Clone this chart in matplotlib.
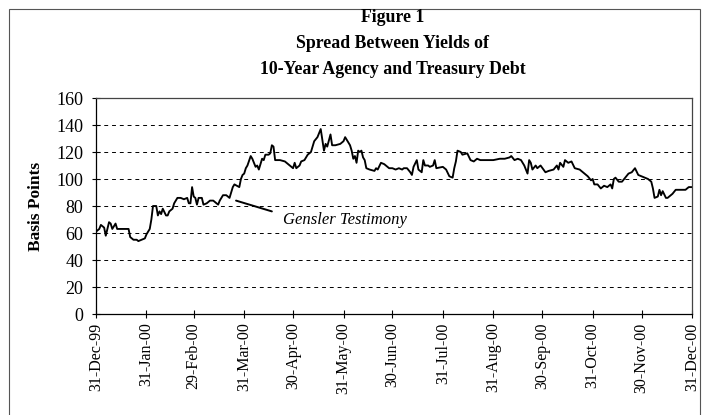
import matplotlib
matplotlib.use("Agg")
import matplotlib.pyplot as plt
from matplotlib.patches import Rectangle
import pandas as pd

# ---- data ----
day_offsets = [0, 2, 3, 5, 6, 8, 9, 10, 12, 13, 17, 20, 21, 23, 25, 26, 28, 30, 31, 33,
               34, 35, 37, 38, 39, 40, 41, 43, 44, 45, 47, 48, 50, 52, 54, 56, 57, 58, 59, 60,
               61, 62, 63, 65, 66, 68, 70, 72, 74, 75, 76, 78, 80, 81, 82, 84, 85, 88, 89, 90,
               91, 92, 93, 95, 96, 98, 99, 100, 102, 103, 104, 106, 107, 108, 109, 110, 113, 116, 119, 121,
               122, 123, 125, 126, 128, 130, 132, 134, 136, 138, 139, 140, 141, 142, 144, 145, 147, 150, 152, 153,
               155, 156, 157, 158, 159, 160, 161, 162, 163, 164, 165, 166, 168, 171, 172, 173, 175, 177, 179, 180,
               182, 184, 186, 188, 189, 191, 193, 194, 195, 197, 198, 200, 201, 202, 204, 205, 207, 208, 209, 213,
               215, 217, 219, 220, 221, 222, 224, 225, 228, 230, 232, 234, 236, 240, 244, 248, 251, 254, 255, 257,
               259, 261, 263, 265, 266, 267, 268, 270, 271, 273, 276, 278, 281, 283, 284, 285, 287, 288, 290, 292,
               294, 297, 300, 302, 304, 305, 306, 308, 310, 312, 314, 316, 317, 318, 319, 321, 323, 325, 327, 329,
               331, 333, 335, 337, 339, 341, 342, 343, 345, 346, 347, 348, 350, 351, 353, 354, 356, 359, 362, 364,
               366]
spread_bp = [61, 63, 66, 64, 58, 68, 67, 63, 67, 63, 63, 63, 57, 55, 55, 54, 55, 56, 59, 63,
             70, 80, 80, 73, 76, 74, 78, 73, 73, 76, 78, 82, 86, 86, 85, 86, 82, 82, 94, 87,
             86, 81, 86, 86, 81, 82, 84, 84, 82, 81, 84, 88, 88, 87, 86, 94, 96, 94, 100, 103,
             104, 108, 110, 117, 115, 109, 110, 107, 115, 114, 118, 118, 119, 125, 124, 114, 114, 113, 110, 108,
             112, 108, 110, 113, 114, 118, 120, 128, 131, 137, 129, 121, 126, 124, 133, 125, 125, 126, 128, 131,
             127, 125, 121, 115, 117, 112, 121, 120, 121, 116, 114, 108, 107, 106, 108, 107, 112, 111, 109, 108,
             108, 107, 108, 107, 108, 108, 105, 103, 109, 114, 107, 105, 114, 110, 110, 109, 110, 114, 108, 109,
             107, 102, 101, 108, 113, 121, 120, 118, 119, 114, 113, 115, 114, 114, 114, 115, 115, 116, 117, 114,
             115, 114, 110, 104, 114, 112, 107, 110, 108, 110, 105, 106, 107, 110, 107, 112, 109, 114, 112, 113,
             108, 107, 104, 102, 99, 100, 96, 96, 93, 95, 94, 96, 93, 100, 101, 98, 98, 101, 104, 105,
             108, 103, 102, 101, 100, 98, 93, 86, 87, 92, 88, 91, 86, 86, 88, 89, 92, 92, 92, 94,
             94]

start_date = "1999-12-31"
tick_dates = ["1999-12-31", "2000-01-31", "2000-02-29", "2000-03-31", "2000-04-30",
              "2000-05-31", "2000-06-30", "2000-07-31", "2000-08-31", "2000-09-30",
              "2000-10-31", "2000-11-30", "2000-12-31"]
tick_labels = ["31-Dec-99", "31-Jan-00", "29-Feb-00", "31-Mar-00", "30-Apr-00",
               "31-May-00", "30-Jun-00", "31-Jul-00", "31-Aug-00", "30-Sep-00",
               "31-Oct-00", "30-Nov-00", "31-Dec-00"]
y_ticks = [0, 20, 40, 60, 80, 100, 120, 140, 160]

title_lines = ["Figure 1", "Spread Between Yields of", "10-Year Agency and Treasury Debt"]
annotation_text = "Gensler Testimony"
annot_point = ("2000-03-26", 84)
annot_line_end = ("2000-04-17", 76)
annot_text_pos = ("2000-04-24", 70)

# ---- plotting ----
plt.rcParams["font.family"] = ["Liberation Serif", "DejaVu Serif"]

dates = pd.Timestamp(start_date) + pd.to_timedelta(day_offsets, unit="D")

fig = plt.figure(figsize=(7.08, 4.15), dpi=100)
ax = fig.add_axes([96 / 708, 1 - 314 / 415, (692 - 96) / 708, (314 - 98) / 415])

ax.plot(dates, spread_bp, color="black", lw=1.35)

ax.set_xlim(pd.Timestamp(tick_dates[0]), pd.Timestamp(tick_dates[-1]))
ax.set_ylim(0, 160)
ax.set_yticks(y_ticks)
ax.set_xticks(pd.to_datetime(tick_dates))
ax.set_xticklabels(tick_labels, rotation=90, fontsize=11.5)
ax.tick_params(axis="y", labelsize=13, direction="inout", length=6, width=0.8, pad=6)
ax.tick_params(axis="x", direction="inout", length=6, width=0.8, pad=3)

for y in y_ticks[1:-1]:
    ax.axhline(y, color="black", lw=0.7, ls=(0, (4, 4)), zorder=0)

for side in ["top", "right", "bottom", "left"]:
    ax.spines[side].set_linewidth(0.9)
ax.spines["top"].set_color("#444444")
ax.spines["right"].set_color("#444444")

ax.set_ylabel("Basis Points", fontsize=12.5, fontweight="bold", labelpad=9)

ax.annotate("", xy=(pd.Timestamp(annot_point[0]), annot_point[1]),
            xytext=(pd.Timestamp(annot_line_end[0]), annot_line_end[1]),
            arrowprops=dict(arrowstyle="-", color="black", lw=1.4,
                            shrinkA=0, shrinkB=0))
ax.text(pd.Timestamp(annot_text_pos[0]), annot_text_pos[1], annotation_text,
        fontsize=12, fontstyle="italic", ha="left", va="center")

title_y = [18, 44, 70]
for line, yy in zip(title_lines, title_y):
    fig.text(393 / 708, 1 - yy / 415, line, ha="center", va="center",
             fontsize=12.75, fontweight="bold")

# outer frame
fig.patches.append(Rectangle((9 / 708, -0.02), (700 - 9) / 708, 1.02 - 9 / 415,
                             transform=fig.transFigure, fill=False,
                             edgecolor="#555555", lw=0.8))

fig.savefig("out.png", dpi=100)
